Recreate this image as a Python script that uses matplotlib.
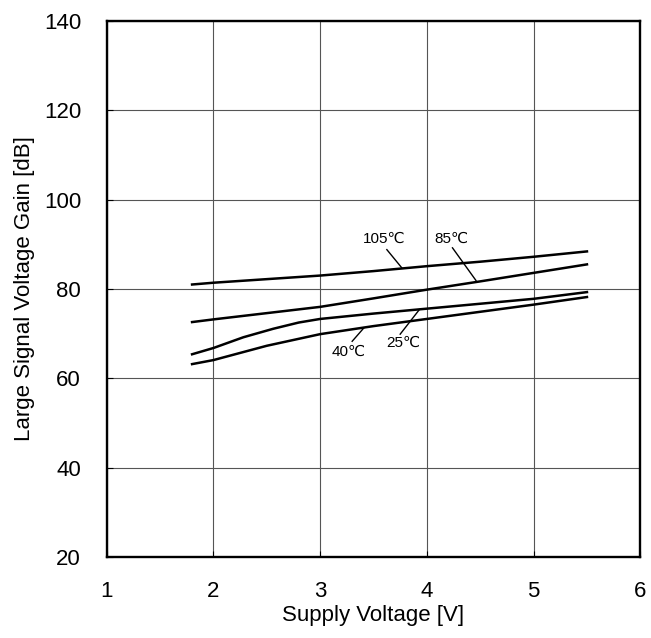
import matplotlib
matplotlib.use("Agg")
import matplotlib.pyplot as plt

plt.rcParams['font.family'] = ['Liberation Sans', 'DejaVu Sans']

x_105 = [1.8, 2.0, 2.5, 3.0, 3.5, 4.0, 4.5, 5.0, 5.5]
gain_105 = [81.0, 81.4, 82.2, 83.0, 84.0, 85.1, 86.1, 87.2, 88.4]
x_85 = [1.8, 2.0, 2.5, 3.0, 3.5, 4.0, 4.5, 5.0, 5.5]
gain_85 = [72.6, 73.2, 74.6, 76.0, 77.9, 79.85, 81.7, 83.6, 85.5]
x_25 = [1.8, 2.0, 2.28, 2.56, 2.8, 3.0, 3.5, 4.0, 4.5, 5.0, 5.5]
gain_25 = [65.4, 66.8, 69.2, 71.1, 72.5, 73.3, 74.5, 75.6, 76.7, 77.8, 79.3]
x_40 = [1.8, 2.0, 2.5, 3.0, 3.5, 4.0, 4.5, 5.0, 5.5]
gain_40 = [63.2, 64.1, 67.3, 69.9, 71.7, 73.3, 74.9, 76.5, 78.2]

labels = ["105\u2103", "85\u2103", "40\u2103", "25\u2103"]
label_xy = [(3.60, 91.2), (4.23, 91.2), (3.27, 66.0), (3.78, 67.9)]
leader_start = [(3.625, 88.8), (4.24, 89.2), (3.30, 68.3), (3.75, 69.9)]
leader_end = [(3.766, 84.7), (4.46, 81.9), (3.41, 71.3), (3.93, 75.4)]

fig = plt.figure(figsize=(6.51, 6.38), dpi=100)
ax = fig.add_axes([0.1639, 0.1265, 0.8197, 0.8411])

for xs, g in [(x_105, gain_105), (x_85, gain_85), (x_25, gain_25), (x_40, gain_40)]:
    ax.plot(xs, g, color='black', linewidth=1.8)

for lab, (tx, ty), (sx, sy), (ex, ey) in zip(labels, label_xy, leader_start, leader_end):
    ax.text(tx, ty, lab, ha='center', va='center', fontsize=11)
    ax.plot([sx, ex], [sy, ey], color='black', linewidth=1.0)

ax.set_xlim(1, 6)
ax.set_ylim(20, 140)
ax.set_xticks([1, 2, 3, 4, 5, 6])
ax.set_yticks([20, 40, 60, 80, 100, 120, 140])
ax.grid(True, color='#555555', linewidth=0.8)
ax.tick_params(direction='in', length=4, labelsize=16)
ax.tick_params(axis='x', pad=17)
ax.tick_params(axis='y', pad=18.5)
for s in ax.spines.values():
    s.set_linewidth(1.7)
ax.set_xlabel("Supply Voltage [V]", fontsize=16, labelpad=2)
ax.set_ylabel("Large Signal Voltage Gain [dB]", fontsize=16, labelpad=6)

fig.savefig("out.png", dpi=100)
